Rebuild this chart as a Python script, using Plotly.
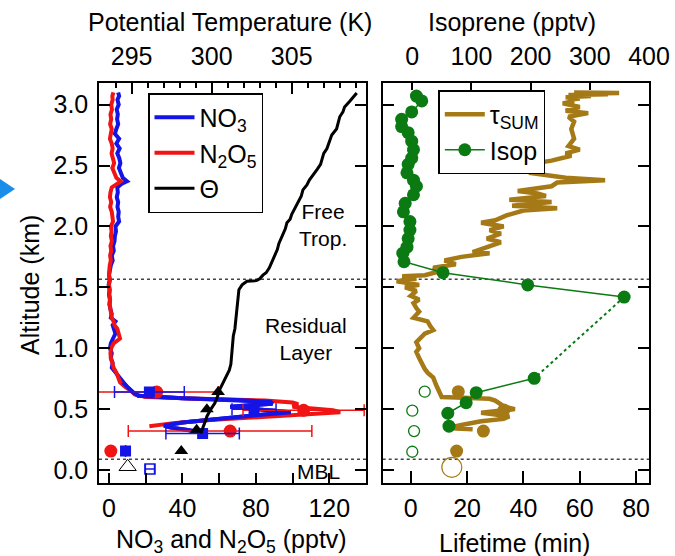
import plotly.graph_objects as go

# ---------------- data ----------------
# NO3 profile (altitude km, pptv)
no3_alt = [3.10, 3.07, 3.04, 3.00, 2.96, 2.92, 2.88, 2.84, 2.80, 2.76, 2.72, 2.68, 2.64, 2.60, 2.56, 2.52,
           2.48, 2.44, 2.40, 2.37, 2.35, 2.32, 2.28, 2.24, 2.20, 2.16, 2.12, 2.08, 2.04, 2.00, 1.96, 1.92,
           1.88, 1.84, 1.80, 1.76, 1.72, 1.68, 1.64, 1.60, 1.56, 1.52, 1.48, 1.44, 1.40, 1.36, 1.32, 1.28,
           1.25, 1.22, 1.19, 1.16, 1.12, 1.08, 1.04, 1.00, 0.96, 0.92, 0.88, 0.84, 0.80, 0.76, 0.72, 0.68,
           0.64, 0.61, 0.59, 0.575, 0.56, 0.545, 0.53, 0.52, 0.50, 0.485, 0.475, 0.45, 0.42, 0.39, 0.365,
           0.35, 0.33, 0.31]
no3_val = [5.0, 5.5, 4.6, 5.3, 4.2, 4.8, 4.4, 5.0, 4.0, 3.2, 5.5, 4.0, 5.8, 4.5, 5.6, 6.2,
           5.4, 6.6, 7.5, 9.8, 7.0, 4.5, 4.8, 4.2, 5.0, 4.6, 5.3, 5.0, 5.5, 3.5, 3.8, 3.2,
           3.0, 2.2, 2.6, 1.5, 2.0, 1.0, 0.5, 0.0, 0.4, -0.2, 0.3, 0.0, 0.5, 0.2, 0.8, 1.5,
           1.0, 3.5, 2.0, 2.8, 3.5, 2.2, 1.0, 0.5, 1.5, 1.0, 2.0, 1.5, 3.5, 5.5, 7.5, 10,
           13, 16, 40, 70, 88, 89, 75, 66, 80, 95, 99, 80, 60, 40, 30,
           33, 42, 50]

# N2O5 profile (altitude km, pptv)
n2o5_alt = [3.10, 3.07, 3.04, 3.00, 2.96, 2.92, 2.88, 2.84, 2.80, 2.76, 2.72, 2.68, 2.64, 2.60, 2.56, 2.52,
            2.48, 2.44, 2.40, 2.37, 2.35, 2.32, 2.28, 2.24, 2.20, 2.16, 2.12, 2.08, 2.04, 2.00, 1.96, 1.92,
            1.88, 1.84, 1.80, 1.76, 1.72, 1.68, 1.64, 1.60, 1.56, 1.52, 1.48, 1.44, 1.40, 1.36, 1.32, 1.28,
            1.25, 1.22, 1.19, 1.16, 1.12, 1.08, 1.04, 1.00, 0.96, 0.92, 0.88, 0.84, 0.80, 0.76, 0.72, 0.68,
            0.65, 0.62, 0.60, 0.585, 0.57, 0.555, 0.54, 0.52, 0.505, 0.49, 0.475, 0.46, 0.44, 0.41, 0.385,
            0.37, 0.36]
n2o5_val = [2.4, 1.8, 2.0, 1.2, 1.6, 0.8, 1.2, 0.6, 1.5, 1.0, 0.5, 1.5, 2.0, 1.4, 2.2, 2.8,
            1.8, 3.0, 4.0, 6.4, 4.0, 1.5, 0.8, 0.5, 1.2, 0.6, 1.5, 1.8, 2.2, 1.0, 1.4, 1.0,
            1.6, 0.8, 1.2, 0.6, 1.0, 0.4, 0.2, 0.0, 0.5, 0.0, 0.4, 0.2, 0.6, 0.4, 0.8, 1.0,
            1.5, 2.5, 3.0, 4.5, 5.0, 6.0, 2.5, 1.2, 0.8, 1.0, 1.8, 2.5, 4.0, 5.0, 6.0, 9.0,
            12, 14, 20, 50, 85, 100, 103, 100, 110, 122, 126, 110, 85, 55, 35,
            25, 22]

# Potential temperature profile (altitude km, K)
theta_alt = [3.095, 3.06, 3.03, 2.98, 2.94, 2.90, 2.85, 2.80, 2.75, 2.70, 2.64, 2.60, 2.55, 2.51, 2.47,
             2.42, 2.38, 2.34, 2.30, 2.25, 2.20, 2.15, 2.10, 2.06, 2.03, 1.98, 1.92, 1.86, 1.81, 1.75,
             1.70, 1.66, 1.62, 1.60, 1.57, 1.555, 1.55, 1.52, 1.48, 1.42, 1.37, 1.30, 1.23, 1.16, 1.10,
             1.02, 0.93, 0.87, 0.82, 0.78, 0.74, 0.70, 0.66, 0.60, 0.55, 0.50, 0.44, 0.40, 0.36, 0.33, 0.30]
theta_val = [309.06, 308.8, 308.64, 308.3, 308.2, 308.0, 307.9, 307.8, 307.5, 307.35, 307.2, 307.0, 306.9,
             306.8, 306.6, 306.3, 306.1, 305.95, 305.7, 305.6, 305.4, 305.15, 305.0, 304.9, 304.7, 304.6,
             304.4, 304.2, 304.1, 303.9, 303.75, 303.6, 303.4, 303.2, 303.0, 302.8, 302.2, 301.9, 301.7,
             301.65, 301.6, 301.55, 301.5, 301.45, 301.35, 301.3, 301.25, 301.2, 301.1, 300.95, 300.8,
             300.65, 300.5, 300.35, 300.2, 299.95, 299.7, 299.6, 299.5, 299.4, 299.3]

# Discrete samples (lower levels)
n2o5_pt_alt = [0.64, 0.49, 0.32, 0.156]
n2o5_pt_val = [26, 106, 66, 1]
n2o5_err_plus = [33.6, 33, 44.5, 0]
n2o5_err_minus = [33.6, 33, 55.5, 0]
no3_pt_alt = [0.64, 0.50, 0.30, 0.156]
no3_pt_val = [22, 79, 51, 9]
no3_err = [19, 12, 20, 0]
no3_open_alt = [0.008]
no3_open_val = [22.3]
no3_open_err = [2.5]
theta_pt_alt = [0.64, 0.50, 0.33, 0.156]
theta_pt_val = [300.4, 299.7, 299.06, 298.1]
theta_open_alt = [0.027]
theta_open_val = [294.75]

# Right panel: sum lifetime (min) profile
tau_alt = [3.10, 3.095, 3.09, 3.085, 3.08, 3.07, 3.06, 3.05, 3.04, 3.03, 3.01, 2.98, 2.95, 2.93, 2.90,
           2.86, 2.80, 2.72, 2.66, 2.63, 2.60, 2.58, 2.54, 2.50, 2.47, 2.46, 2.44, 2.42, 2.40, 2.38,
           2.36, 2.33, 2.29, 2.27, 2.25, 2.22, 2.20, 2.17, 2.15, 2.13, 2.09, 2.05, 2.03, 2.00, 1.97,
           1.94, 1.90, 1.87, 1.82, 1.79, 1.78, 1.75, 1.72, 1.69, 1.66, 1.63, 1.60,
           1.59, 1.57, 1.55, 1.52, 1.50, 1.47, 1.43, 1.40, 1.37, 1.33, 1.30, 1.25, 1.22, 1.18, 1.15,
           1.12, 1.08, 1.05, 1.00, 0.97, 0.92, 0.87, 0.83, 0.80, 0.76, 0.70, 0.64, 0.60, 0.595, 0.59,
           0.585, 0.57, 0.56, 0.54, 0.52, 0.50, 0.49, 0.47, 0.455, 0.44, 0.42, 0.40, 0.37, 0.35, 0.34, 0.335]
tau_val = [58, 74, 60, 70, 56, 64, 55, 60, 56, 58, 54, 60, 55, 63, 56,
           58, 57, 58, 56, 60, 55, 57, 50, 39, 37, 45, 42, 50, 55, 69,
           52, 50, 38, 45, 48, 35, 50, 36, 52, 40, 34, 30, 25, 33, 28,
           32, 27, 32, 26, 22, 28, 18, 12, 16, 8, 10, 5,
           -3, 2, -5, 3, -2, 2, 0, 3, 1, 2, 3, 1, 6, 7, 8,
           5, 3, 2, 3, 2, 3, 4, 5, 6, 8, 9, 10, 11, 16, 22,
           28, 30, 31, 32, 33, 37, 33, 25, 30, 35, 33, 25, 18, 14, 16, 22]

tau_pt_alt = [0.643, 0.493, 0.32, 0.156]
tau_pt_val = [16.9, 33.1, 25.8, 16.3]
tau_open_alt = [0.022]
tau_open_val = [14.6]

# Isoprene (pptv)
isop_alt_upper = [3.07, 3.03, 2.94, 2.88, 2.82, 2.77, 2.70, 2.63, 2.56, 2.51, 2.44, 2.38, 2.33, 2.26,
                  2.19, 2.12, 2.04, 1.97, 1.90, 1.83, 1.78, 1.71, 1.62, 1.52, 1.42]
isop_val_upper = [7, 16, -1, -18, -18, -7, -1, 2, -1, -7, -9, 2, 7, 2,
                  -12, -15, -4, -4, -7, -9, -16, -14, 52, 195, 358]
isop_alt_gap = [1.42, 0.753]
isop_val_gap = [358, 206]
isop_alt_lower = [0.753, 0.635, 0.553, 0.466, 0.36]
isop_val_lower = [206, 108, 91, 60, 62]
isop_open_alt = [0.643, 0.487, 0.32, 0.15]
isop_open_val = [21, 0, 3, 0]

layer_tops = [1.567, 0.088]

# ---------------- styling ----------------
BLUE = "#1414e6"
RED = "#f01414"
GREEN = "#0b7a12"
BROWN = "#a57a16"
FONT = "Liberation Sans, Arial, sans-serif"
W, H = 675, 556

def px(x):
    return x / W

def py(y):
    return 1 - y / H

fig = go.Figure()

# left panel lines
fig.add_trace(go.Scatter(x=no3_val, y=no3_alt, mode="lines", name="NO<sub>3</sub>",
                         line=dict(color=BLUE, width=4), xaxis="x", yaxis="y", legend="legend"))
fig.add_trace(go.Scatter(x=n2o5_val, y=n2o5_alt, mode="lines", name="N<sub>2</sub>O<sub>5</sub>",
                         line=dict(color=RED, width=4), xaxis="x", yaxis="y", legend="legend"))
fig.add_trace(go.Scatter(x=no3_val[-20:], y=no3_alt[-20:], mode="lines", showlegend=False,
                         line=dict(color=BLUE, width=4), xaxis="x", yaxis="y"))

fig.add_trace(go.Scatter(x=n2o5_pt_val, y=n2o5_pt_alt, mode="markers", showlegend=False,
                         marker=dict(color=RED, size=13, symbol="circle"),
                         error_x=dict(type="data", array=n2o5_err_plus, arrayminus=n2o5_err_minus,
                                      color=RED, thickness=1.5, width=6),
                         cliponaxis=False, xaxis="x", yaxis="y"))
fig.add_trace(go.Scatter(x=no3_pt_val, y=no3_pt_alt, mode="markers", showlegend=False,
                         marker=dict(color=BLUE, size=11, symbol="square"),
                         error_x=dict(type="data", array=no3_err, color=BLUE, thickness=1.5, width=6),
                         xaxis="x", yaxis="y"))
fig.add_trace(go.Scatter(x=no3_open_val, y=no3_open_alt, mode="markers", showlegend=False,
                         marker=dict(color=BLUE, size=10, symbol="square-open", line=dict(width=1.5)),
                         error_x=dict(type="data", array=no3_open_err, color=BLUE, thickness=1.5, width=5),
                         xaxis="x", yaxis="y"))

fig.add_trace(go.Scatter(x=theta_val, y=theta_alt, mode="lines", name="Θ",
                         line=dict(color="black", width=3), xaxis="x2", yaxis="y", legend="legend"))
fig.add_trace(go.Scatter(x=theta_pt_val, y=theta_pt_alt, mode="markers", showlegend=False,
                         marker=dict(color="black", size=12, symbol="triangle-up"),
                         xaxis="x2", yaxis="y"))
fig.add_trace(go.Scatter(x=theta_open_val, y=theta_open_alt, mode="markers", showlegend=False,
                         marker=dict(color="black", size=15, symbol="triangle-up-open", line=dict(width=1)),
                         xaxis="x2", yaxis="y"))

# right panel
fig.add_trace(go.Scatter(x=tau_val, y=tau_alt, mode="lines", name="τ<sub>SUM</sub>",
                         line=dict(color=BROWN, width=4.5), xaxis="x3", yaxis="y2", legend="legend2"))
fig.add_trace(go.Scatter(x=tau_pt_val, y=tau_pt_alt, mode="markers", showlegend=False,
                         marker=dict(color=BROWN, size=13), xaxis="x3", yaxis="y2"))
fig.add_trace(go.Scatter(x=tau_open_val, y=tau_open_alt, mode="markers", showlegend=False,
                         marker=dict(color="rgba(0,0,0,0)", size=20, line=dict(color=BROWN, width=1.2)),
                         xaxis="x3", yaxis="y2"))

fig.add_trace(go.Scatter(x=isop_val_gap, y=isop_alt_gap, mode="lines", showlegend=False,
                         line=dict(color=GREEN, width=2, dash="dot"), xaxis="x4", yaxis="y2"))
fig.add_trace(go.Scatter(x=isop_val_upper, y=isop_alt_upper, mode="lines+markers", name="Isop",
                         line=dict(color=GREEN, width=1.5), marker=dict(color=GREEN, size=13),
                         xaxis="x4", yaxis="y2", legend="legend2"))
fig.add_trace(go.Scatter(x=isop_val_lower, y=isop_alt_lower, mode="lines+markers", showlegend=False,
                         line=dict(color=GREEN, width=1.5), marker=dict(color=GREEN, size=13),
                         xaxis="x4", yaxis="y2"))
fig.add_trace(go.Scatter(x=isop_open_val, y=isop_open_alt, mode="markers", showlegend=False,
                         marker=dict(color="rgba(0,0,0,0)", size=11, line=dict(color=GREEN, width=1.3)),
                         xaxis="x4", yaxis="y2"))

# ---------------- layout ----------------
tickfont = dict(family=FONT, size=25, color="black")
LD = [px(99), px(366)]
RD = [px(382.7), px(649.3)]
YD = [py(482.7), py(82.7)]
yrange = [-0.104, 3.18]

common_x = dict(showline=True, linecolor="black", linewidth=1.5, ticks="inside", tickcolor="black",
                tickwidth=1.5, showgrid=False, zeroline=False, tickfont=tickfont, automargin=False)

layout = dict(
    width=W, height=H, margin=dict(l=0, r=0, t=0, b=0),
    paper_bgcolor="white", plot_bgcolor="white",
    xaxis=dict(domain=LD, range=[-5.45, 140], anchor="y", tickvals=[0, 40, 80, 120], ticklen=10,
               minor=dict(tickvals=[20, 60, 100], ticklen=10, ticks="inside", tickcolor="black", tickwidth=1.5),
               mirror=True, ticklabelstandoff=3, **common_x),
    xaxis2=dict(range=[292.96, 309.64], overlaying="x", side="top", anchor="y", tickvals=[295, 300, 305],
                ticklen=12, minor=dict(dtick=1, tick0=295, ticklen=6, ticks="inside", tickcolor="black", tickwidth=1.5),
                ticklabelstandoff=6, **common_x),
    yaxis=dict(domain=YD, range=yrange, anchor="x", dtick=0.5, tick0=0, tickformat=".1f", ticklen=11,
               showline=True, linecolor="black", linewidth=1.5, ticks="inside", tickcolor="black", tickwidth=1.5,
               mirror="ticks", showgrid=False, zeroline=False, tickfont=tickfont, automargin=False,
               ticklabelstandoff=4),
    xaxis3=dict(domain=RD, range=[-9.94, 84.7], anchor="y2", dtick=20, tick0=0, ticklen=12, mirror=True,
                ticklabelstandoff=3, **common_x),
    xaxis4=dict(range=[-50, 400.5], overlaying="x3", side="top", anchor="y2", dtick=100, tick0=0, ticklen=8,
                ticklabelstandoff=6, **common_x),
    yaxis2=dict(domain=YD, range=yrange, anchor="x3", dtick=0.5, tick0=0, ticklen=12, showticklabels=False,
                showline=True, linecolor="black", linewidth=1.5, ticks="inside", tickcolor="black", tickwidth=1.5,
                mirror="ticks", showgrid=False, zeroline=False, automargin=False),
    legend=dict(x=px(148), y=py(93), xanchor="left", yanchor="top", bgcolor="white",
                bordercolor="black", borderwidth=1.5, font=dict(family=FONT, size=25, color="black"),
                tracegroupgap=0, itemwidth=40),
    legend2=dict(x=px(438.3), y=py(90), xanchor="left", yanchor="top", bgcolor="white",
                 bordercolor="black", borderwidth=1.5, font=dict(family=FONT, size=25, color="black"),
                 tracegroupgap=0, itemwidth=40),
    showlegend=True,
)
fig.update_layout(**layout)

# dotted layer boundaries
shapes = []
for lt in layer_tops:
    for xr, yr in (("x domain", "y"), ("x3 domain", "y2")):
        shapes.append(dict(type="line", xref=xr, yref=yr, x0=0, x1=1, y0=lt, y1=lt,
                           line=dict(color="#444", width=1.5, dash="dot"), layer="below"))
# blue arrow at left edge
shapes.append(dict(type="path", xref="paper", yref="paper",
                   path=f"M 0 {py(179)} L {px(15)} {py(189)} L 0 {py(199)} Z",
                   fillcolor="#1a8de8", line=dict(width=0)))
fig.update_layout(shapes=shapes)

ann_font = dict(family=FONT, size=25, color="black")
txt_font = dict(family=FONT, size=21, color="black")
annotations = [
    dict(text="Potential Temperature (K)", x=px(229.5), y=py(22), xref="paper", yref="paper",
         showarrow=False, font=ann_font, xanchor="center", yanchor="middle"),
    dict(text="Isoprene (pptv)", x=px(512), y=py(22), xref="paper", yref="paper",
         showarrow=False, font=ann_font, xanchor="center", yanchor="middle"),
    dict(text="NO<sub>3</sub> and N<sub>2</sub>O<sub>5</sub> (pptv)", x=px(232), y=py(541), xref="paper",
         yref="paper", showarrow=False, font=ann_font, xanchor="center", yanchor="middle"),
    dict(text="Lifetime (min)", x=px(514), y=py(543), xref="paper", yref="paper",
         showarrow=False, font=ann_font, xanchor="center", yanchor="middle"),
    dict(text="Altitude (km)", x=px(30), y=py(285), xref="paper", yref="paper", textangle=-90,
         showarrow=False, font=ann_font, xanchor="center", yanchor="middle"),
    dict(text="Free<br>Trop.", x=px(323), y=py(225), xref="paper", yref="paper",
         showarrow=False, font=txt_font, xanchor="center", yanchor="middle", align="center"),
    dict(text="Residual<br>Layer", x=px(306), y=py(339), xref="paper", yref="paper",
         showarrow=False, font=txt_font, xanchor="center", yanchor="middle", align="center"),
    dict(text="MBL", x=px(318), y=py(471), xref="paper", yref="paper",
         showarrow=False, font=txt_font, xanchor="center", yanchor="middle"),
]
fig.update_layout(annotations=annotations)

fig.write_html("out.html", config={"displayModeBar": False},
               post_script="document.body.style.margin='0';document.body.style.overflow='hidden';")
